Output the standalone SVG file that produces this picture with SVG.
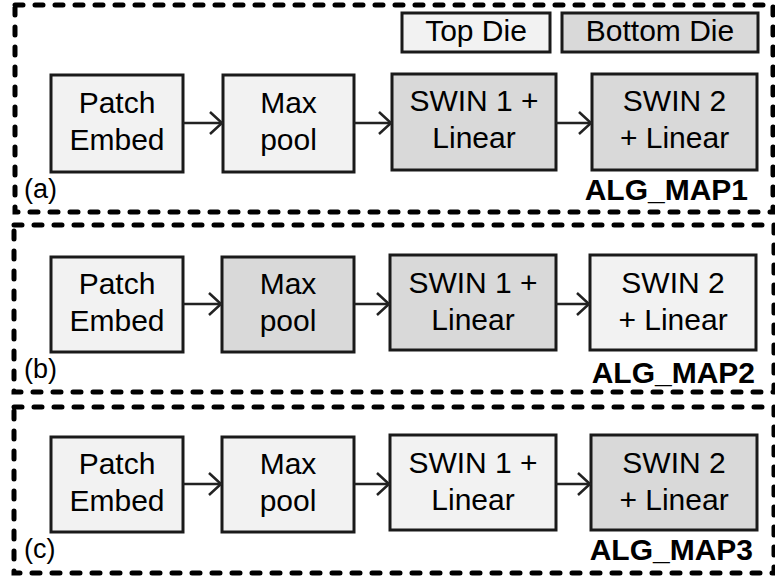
<svg xmlns="http://www.w3.org/2000/svg" width="775" height="581" viewBox="0 0 775 581">
  <defs>
    <style>
      .frame { fill: none; stroke: #000; stroke-width: 5; stroke-dasharray: 8 12; stroke-linecap: round; }
      .top { fill: #f2f2f2; stroke: #1a1a1a; stroke-width: 3; }
      .bot { fill: #d9d9d9; stroke: #1a1a1a; stroke-width: 3; }
      .lbl { font-family: "Liberation Sans", Arial, sans-serif; font-size: 30px; fill: #000; text-anchor: middle; }
      .tag { font-family: "Liberation Sans", Arial, sans-serif; font-size: 27px; fill: #000; }
      .alg { font-family: "Liberation Sans", Arial, sans-serif; font-size: 30px; font-weight: bold; fill: #000; text-anchor: end; }
      .wire { fill: none; stroke: #222; stroke-width: 2.5; marker-end: url(#chev); }
    </style>
    <marker id="chev" markerUnits="userSpaceOnUse" markerWidth="16" markerHeight="26" viewBox="0 0 16 26" refX="14" refY="13" orient="auto">
      <path d="M2,2 L14,13 L2,24" fill="none" stroke="#222" stroke-width="2.5"/>
    </marker>
  </defs>

  <!-- panel frames -->
  <g id="frames">
    <rect class="frame" x="15" y="5" width="758" height="207"/>
    <rect class="frame" x="14" y="225" width="760" height="167"/>
    <rect class="frame" x="14" y="407" width="760" height="166"/>
  </g>

  <!-- legend -->
  <g id="legend-top">
    <rect class="top" x="402" y="13" width="148" height="39"/>
    <text class="lbl" x="476" y="41">Top Die</text>
  </g>
  <g id="legend-bottom">
    <rect class="bot" x="562" y="13" width="196" height="39"/>
    <text class="lbl" x="660" y="41">Bottom Die</text>
  </g>

  <!-- panel (a) -->
  <g id="a-patch">
    <rect class="top" x="51" y="75" width="132" height="97"/>
    <text class="lbl" x="117" y="113">Patch</text>
    <text class="lbl" x="117" y="150">Embed</text>
  </g>
  <g id="a-pool">
    <rect class="top" x="223" y="75" width="131" height="97"/>
    <text class="lbl" x="288.5" y="113">Max</text>
    <text class="lbl" x="288.5" y="150">pool</text>
  </g>
  <g id="a-swin1">
    <rect class="bot" x="392" y="74" width="164" height="96"/>
    <text class="lbl" x="474" y="111">SWIN 1 +</text>
    <text class="lbl" x="474" y="148">Linear</text>
  </g>
  <g id="a-swin2">
    <rect class="bot" x="592" y="74" width="165" height="96"/>
    <text class="lbl" x="674.5" y="111">SWIN 2</text>
    <text class="lbl" x="674.5" y="148">+ Linear</text>
  </g>
  <text class="tag" x="24" y="198">(a)</text>
  <text class="alg" x="748" y="200">ALG_MAP1</text>

  <!-- panel (b) -->
  <g id="b-patch">
    <rect class="top" x="51" y="257" width="132" height="95"/>
    <text class="lbl" x="117" y="294">Patch</text>
    <text class="lbl" x="117" y="331">Embed</text>
  </g>
  <g id="b-pool">
    <rect class="bot" x="222" y="257" width="132" height="95"/>
    <text class="lbl" x="288" y="294">Max</text>
    <text class="lbl" x="288" y="331">pool</text>
  </g>
  <g id="b-swin1">
    <rect class="bot" x="390" y="255" width="166" height="95"/>
    <text class="lbl" x="473" y="293">SWIN 1 +</text>
    <text class="lbl" x="473" y="330">Linear</text>
  </g>
  <g id="b-swin2">
    <rect class="top" x="590" y="255" width="166" height="95"/>
    <text class="lbl" x="673" y="293">SWIN 2</text>
    <text class="lbl" x="673" y="330">+ Linear</text>
  </g>
  <text class="tag" x="24" y="378">(b)</text>
  <text class="alg" x="755" y="383">ALG_MAP2</text>

  <!-- panel (c) -->
  <g id="c-patch">
    <rect class="top" x="51" y="437" width="132" height="95"/>
    <text class="lbl" x="117" y="474">Patch</text>
    <text class="lbl" x="117" y="511">Embed</text>
  </g>
  <g id="c-pool">
    <rect class="top" x="222" y="437" width="132" height="95"/>
    <text class="lbl" x="288" y="474">Max</text>
    <text class="lbl" x="288" y="511">pool</text>
  </g>
  <g id="c-swin1">
    <rect class="top" x="390" y="435" width="166" height="95"/>
    <text class="lbl" x="473" y="473">SWIN 1 +</text>
    <text class="lbl" x="473" y="510">Linear</text>
  </g>
  <g id="c-swin2">
    <rect class="bot" x="591" y="435" width="166" height="95"/>
    <text class="lbl" x="674" y="473">SWIN 2</text>
    <text class="lbl" x="674" y="510">+ Linear</text>
  </g>
  <text class="tag" x="24" y="558">(c)</text>
  <text class="alg" x="753" y="560">ALG_MAP3</text>

  <!-- connectors -->
  <g id="connectors">
    <path class="wire" d="M183,123 H222"/>
    <path class="wire" d="M354,123 H391"/>
    <path class="wire" d="M556,123 H591"/>
    <path class="wire" d="M183,304 H221"/>
    <path class="wire" d="M354,304 H389"/>
    <path class="wire" d="M556,304 H589"/>
    <path class="wire" d="M183,484 H221"/>
    <path class="wire" d="M354,484 H389"/>
    <path class="wire" d="M556,484 H590"/>
  </g>
</svg>
